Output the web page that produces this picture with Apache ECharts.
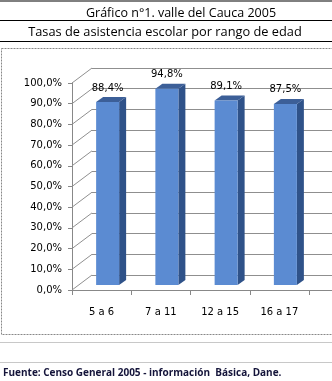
<!DOCTYPE html>
<html>
<head>
<meta charset="utf-8">
<script src="https://cdn.jsdelivr.net/npm/echarts@6/dist/echarts.min.js"></script>
<style>
  html, body { margin: 0; padding: 0; background: #fff; }
  #chart { width: 332px; height: 381px; }
</style>
</head>
<body>
<div id="chart"></div>
<script>
// datos del gráfico
const rangos = ['5 a 6', '7 a 11', '12 a 15', '16 a 17']
const tasas = [88.4, 94.8, 89.1, 87.5]
const ticksY = [0, 10, 20, 30, 40, 50, 60, 70, 80, 90, 100]

const chart = echarts.init(document.getElementById('chart'))

const fmt = (v) => v.toFixed(1).replace('.', ',') + '%'

// profundidad del efecto 3D
const PARED_DX = 20, PARED_DY = -15
const BAR_DX = 6, BAR_DY = -5
const BAR_W = 23, LADO_DX = 7, LADO_DY = -5

const options = {
  animation: false,
  textStyle: { fontFamily: 'DejaVu Sans' },
  graphic: [
    { type: 'line', shape: { x1: 0, y1: 1, x2: 332, y2: 1 }, style: { stroke: '#000', lineWidth: 1 } },
    { type: 'line', shape: { x1: 0, y1: 20.5, x2: 332, y2: 20.5 }, style: { stroke: '#000', lineWidth: 1 } },
    { type: 'line', shape: { x1: 0, y1: 41.5, x2: 332, y2: 41.5 }, style: { stroke: '#000', lineWidth: 1 } },
    { type: 'text', x: 181, y: 13, style: { text: 'Gráfico n°1. valle del Cauca 2005', fontFamily: 'Open Sans', fontSize: 12.5, fill: '#000', align: 'center', verticalAlign: 'middle' } },
    { type: 'text', x: 165, y: 32, style: { text: 'Tasas de asistencia escolar por rango de edad', fontFamily: 'Open Sans', fontSize: 12.8, fill: '#000', align: 'center', verticalAlign: 'middle' } },
    { type: 'rect', shape: { x: 1.5, y: 48.5, width: 340, height: 286 }, style: { fill: 'none', stroke: '#888', lineWidth: 1, lineDash: [2, 1] } },
    { type: 'line', shape: { x1: 309, y1: 290.5, x2: 332, y2: 290.5 }, style: { stroke: '#888', lineWidth: 1 } },
    { type: 'line', shape: { x1: 0, y1: 342.5, x2: 332, y2: 342.5 }, style: { stroke: '#c8c8c8', lineWidth: 1 } },
    { type: 'line', shape: { x1: 0, y1: 362.5, x2: 332, y2: 362.5 }, style: { stroke: '#c8c8c8', lineWidth: 1 } },
    { type: 'text', x: 3, y: 373, style: { text: 'Fuente: Censo General 2005 - información  Básica, Dane.', fontFamily: 'Open Sans', fontWeight: 'bold', fontSize: 10, fill: '#14143a', align: 'left', verticalAlign: 'middle' } }
  ],
  grid: [
    // plano frontal
    { left: 72, top: 83, width: 237, height: 207 },
    // pared del fondo
    { left: 72 + PARED_DX, top: 83 + PARED_DY, width: 245, height: 207 }
  ],
  xAxis: [
    {
      gridIndex: 0,
      type: 'category',
      data: rangos,
      axisLine: { lineStyle: { color: '#888' } },
      axisTick: { show: true, length: 5, lineStyle: { color: '#888' } },
      axisLabel: { color: '#000', fontSize: 10, margin: 17 }
    },
    { gridIndex: 1, type: 'category', data: rangos, show: false }
  ],
  yAxis: [
    {
      gridIndex: 0,
      type: 'value',
      min: 0,
      max: 100,
      interval: 10,
      axisLine: { show: true, lineStyle: { color: '#888' } },
      axisTick: { show: true, length: 4, lineStyle: { color: '#888' } },
      splitLine: { show: false },
      axisLabel: { color: '#000', fontSize: 10, margin: 10, formatter: fmt }
    },
    {
      gridIndex: 1,
      type: 'value',
      min: 0,
      max: 100,
      interval: 10,
      axisLine: { show: false },
      axisTick: { show: false },
      axisLabel: { show: false },
      splitLine: { show: true, lineStyle: { color: '#8f8f8f', width: 1 } }
    }
  ],
  series: [
    // líneas diagonales de la pared lateral
    {
      type: 'custom',
      xAxisIndex: 0,
      yAxisIndex: 0,
      data: ticksY.map((v) => [0, v]),
      silent: true,
      z: 1,
      renderItem: (params, api) => {
        const x0 = params.coordSys.x
        const y0 = api.coord([0, api.value(1)])[1]
        return {
          type: 'line',
          shape: { x1: x0, y1: y0, x2: x0 + PARED_DX, y2: y0 + PARED_DY },
          style: { stroke: '#8f8f8f', lineWidth: 1 }
        }
      }
    },
    // columnas 3D
    {
      type: 'custom',
      xAxisIndex: 0,
      yAxisIndex: 0,
      data: tasas.map((v, i) => [i, v]),
      z: 5,
      renderItem: (params, api) => {
        const base = api.coord([api.value(0), 0])
        const top = api.coord([api.value(0), api.value(1)])
        const cx = base[0] + BAR_DX
        const x1 = cx - BAR_W / 2
        const x2 = cx + BAR_W / 2
        const yb = base[1] + BAR_DY
        const yt = top[1] + BAR_DY
        return {
          type: 'group',
          children: [
            {
              type: 'polygon',
              shape: { points: [[x2, yt], [x2 + LADO_DX, yt + LADO_DY], [x2 + LADO_DX, yb + LADO_DY], [x2, yb]] },
              style: { fill: '#2f5289' }
            },
            {
              type: 'polygon',
              shape: { points: [[x1, yt], [x1 + LADO_DX, yt + LADO_DY], [x2 + LADO_DX, yt + LADO_DY], [x2, yt]] },
              style: { fill: '#3c5f98' }
            },
            {
              type: 'rect',
              shape: { x: x1, y: yt, width: BAR_W, height: yb - yt },
              style: { fill: '#5b8bd2' }
            },
            {
              type: 'text',
              x: cx,
              y: yt + LADO_DY - 9,
              style: { text: fmt(api.value(1)), fontFamily: 'DejaVu Sans', fontSize: 10, fill: '#000', align: 'center', verticalAlign: 'middle' }
            }
          ]
        }
      }
    }
  ]
}

chart.setOption(options)
</script>
</body>
</html>
